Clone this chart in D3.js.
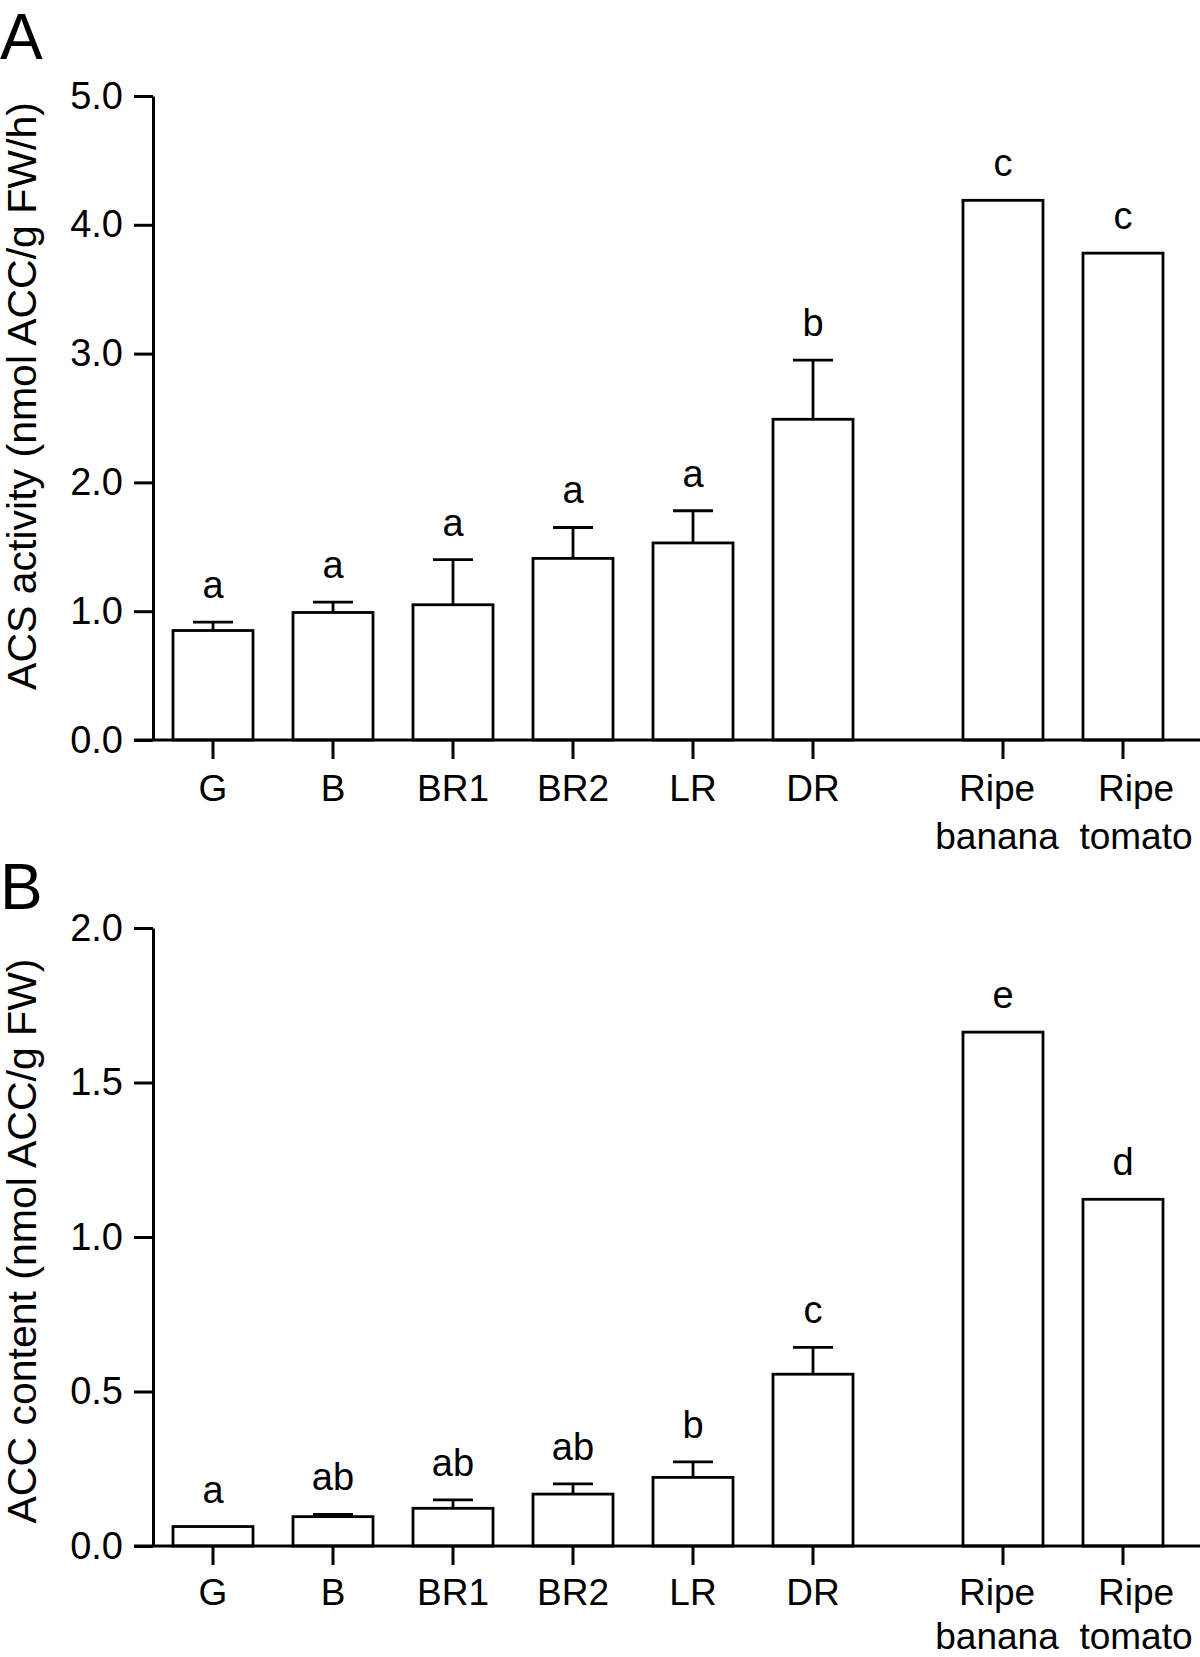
<!DOCTYPE html>
<html>
<head>
<meta charset="utf-8">
<script src="https://cdn.jsdelivr.net/npm/d3@7"></script>
<style>
  html, body { margin: 0; padding: 0; background: #fff; }
  svg { display: block; }
  text { font-family: "Liberation Sans", Arial, Helvetica, sans-serif; fill: #000; }
</style>
</head>
<body>
<svg id="chart" width="1200" height="1657"></svg>
<script>
// ---------------- data ----------------
const stages = ["G", "B", "BR1", "BR2", "LR", "DR"];
const ripe = ["Ripe banana", "Ripe tomato"];

const acsMean = [0.85, 0.99, 1.05, 1.41, 1.53, 2.49, 4.19, 3.78];
const acsErr  = [0.065, 0.08, 0.35, 0.24, 0.25, 0.46, 0, 0];
const acsLetters = ["a", "a", "a", "a", "a", "b", "c", "c"];
const acsTicks = [0, 1, 2, 3, 4, 5];

const accMean = [0.063, 0.095, 0.122, 0.168, 0.222, 0.556, 1.663, 1.122];
const accErr  = [0, 0.007, 0.027, 0.033, 0.05, 0.087, 0, 0];
const accLetters = ["a", "ab", "ab", "ab", "b", "c", "e", "d"];
const accTicks = [0, 0.5, 1.0, 1.5, 2.0];

// ---------------- layout ----------------
const svg = d3.select("#chart");
svg.append("rect").attr("width", 1200).attr("height", 1657).attr("fill", "#fff");

const axisX = 153;
const xStage = d3.scaleBand().domain(stages).range([153, 873]).paddingInner(1/3).paddingOuter(1/6);
const xRipe  = d3.scaleBand().domain(ripe).range([943, 1183]).paddingInner(1/3).paddingOuter(1/6);
const categories = stages.concat(ripe);
const bandX = c => stages.includes(c) ? xStage(c) : xRipe(c);
const bw = xStage.bandwidth();
const labelDx = {"Ripe banana": -6, "Ripe tomato": 13};

function panel(cfg) {
  const g = svg.append("g");
  const y = d3.scaleLinear().domain(cfg.domain).range([cfg.y0, cfg.y1]);
  const rows = categories.map((c, i) => ({c, m: cfg.mean[i], e: cfg.err[i], l: cfg.letters[i]}));

  // bars
  g.selectAll("rect.bar").data(rows).join("rect")
    .attr("class", "bar")
    .attr("x", d => bandX(d.c))
    .attr("y", d => y(d.m))
    .attr("width", bw)
    .attr("height", d => y(0) - y(d.m))
    .attr("fill", "#fff").attr("stroke", "#000").attr("stroke-width", 2.8);

  // error bars (upper)
  const eb = rows.filter(d => d.e > 0);
  g.selectAll("line.ev").data(eb).join("line")
    .attr("x1", d => bandX(d.c) + bw / 2).attr("x2", d => bandX(d.c) + bw / 2)
    .attr("y1", d => y(d.m)).attr("y2", d => y(d.m + d.e))
    .attr("stroke", "#000").attr("stroke-width", 2.8);
  g.selectAll("line.ec").data(eb).join("line")
    .attr("x1", d => bandX(d.c) + bw / 4).attr("x2", d => bandX(d.c) + bw * 3 / 4)
    .attr("y1", d => y(d.m + d.e)).attr("y2", d => y(d.m + d.e))
    .attr("stroke", "#000").attr("stroke-width", 2.8);

  // significance letters
  g.selectAll("text.sig").data(rows).join("text")
    .attr("x", d => bandX(d.c) + bw / 2)
    .attr("y", d => y(d.m + d.e) - 24)
    .attr("text-anchor", "middle")
    .attr("font-size", 38)
    .text(d => d.l);

  // y axis
  const ya = g.append("g").attr("transform", `translate(${axisX},0)`)
    .call(d3.axisLeft(y).tickValues(cfg.ticks).tickFormat(d3.format(".1f"))
      .tickSize(19).tickSizeOuter(0).tickPadding(11));
  ya.select(".domain").attr("stroke", "#000").attr("stroke-width", 3);
  ya.selectAll(".tick line").attr("stroke", "#000").attr("stroke-width", 3);
  ya.selectAll(".tick text").attr("font-size", 38)
    .attr("font-family", "Liberation Sans, Arial, sans-serif").attr("fill", "#000");

  // x axis baseline
  g.append("line").attr("x1", axisX - 19).attr("x2", 1200)
    .attr("y1", y(0)).attr("y2", y(0)).attr("stroke", "#000").attr("stroke-width", 3);
  // x ticks
  g.selectAll("line.xt").data(categories).join("line")
    .attr("x1", c => bandX(c) + bw / 2).attr("x2", c => bandX(c) + bw / 2)
    .attr("y1", y(0)).attr("y2", y(0) + 19)
    .attr("stroke", "#000").attr("stroke-width", 3);
  // x labels
  const xl = g.selectAll("text.xl").data(categories).join("text")
    .attr("text-anchor", "middle").attr("font-size", 37)
    .attr("transform", c => `translate(${bandX(c) + bw / 2 + (labelDx[c] || 0)},${y(0) + cfg.labelOff})`);
  xl.each(function (c) {
    const parts = c.split(" ");
    d3.select(this).selectAll("tspan").data(parts).join("tspan")
      .attr("x", 0).attr("y", (p, i) => i * cfg.lineGap).text(p => p);
  });

  // y title
  g.append("text")
    .attr("transform", `translate(36,${cfg.titleY}) rotate(-90)`)
    .attr("text-anchor", "middle").attr("font-size", 41)
    .text(cfg.title);

  // panel letter
  g.append("text").attr("x", 0).attr("y", cfg.letterY)
    .attr("font-size", 64).text(cfg.letter);
}

panel({domain: [0, 5], y0: 740, y1: 96, mean: acsMean, err: acsErr, letters: acsLetters,
       ticks: acsTicks, title: "ACS activity (nmol ACC/g FW/h)", titleY: 396, letter: "A", letterY: 59,
       labelOff: 61, lineGap: 48});
panel({domain: [0, 2], y0: 1546, y1: 928, mean: accMean, err: accErr, letters: accLetters,
       ticks: accTicks, title: "ACC content (nmol ACC/g FW)", titleY: 1241, letter: "B", letterY: 909,
       labelOff: 59, lineGap: 44});
</script>
</body>
</html>
